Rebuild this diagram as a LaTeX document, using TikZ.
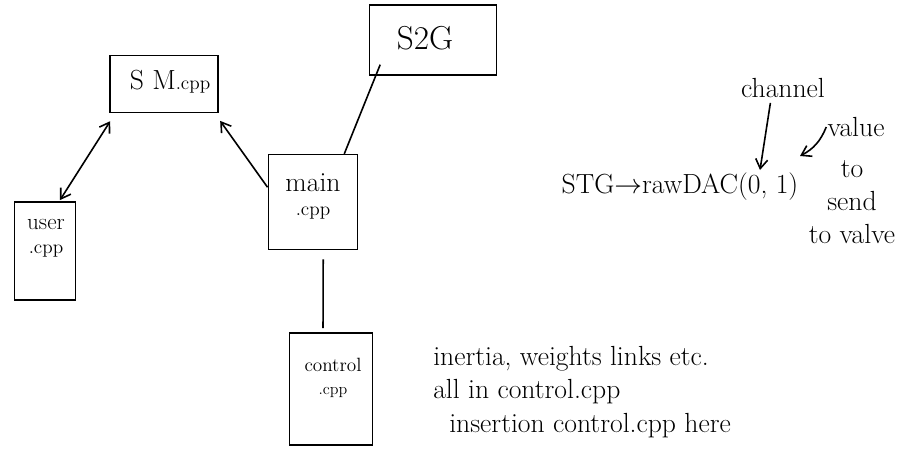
\documentclass[tikz,border=0pt]{standalone}
\usepackage{tikz}
\usetikzlibrary{arrows.meta, positioning}

\tikzset{
  filebox/.style={draw, line width=1.2pt, inner sep=0pt},
  filetext/.style={inner sep=0.75pt, align=center},
  note/.style={inner sep=0.75pt, align=left},
  link/.style={line width=1.2pt},
  barb/.style={-{Straight Barb[length=7pt, width=9pt]}}
}

\begin{document}
\begin{tikzpicture}[x=0.75pt,y=0.75pt,yscale=-1,xscale=1]
		\path[use as bounding box] (0,0) rectangle (899,465);

		%Shape: Boxes
		\node[filebox, minimum width=81pt, minimum height=42.75pt] (sm) at (164,84) {};
		\node[filebox, minimum width=95pt, minimum height=52.5pt] (s2g) at (433,40) {};
		\node[filebox, minimum width=67pt, minimum height=71pt] (main) at (313,202) {};
		\node[filebox, minimum width=46pt, minimum height=73.5pt] (user) at (45,251) {};
		\node[filebox, minimum width=62pt, minimum height=84pt] (control) at (331,389) {};

		% Text Node
		\node[filetext] (sm-txt) at (170,82) {\huge S M{\Large.cpp}};
		\node[filetext] (s2g-txt) at (425,38) {\Huge S2G};
		\node[filetext, font=\Large] (main-txt) at (313,196) {{\huge main}\\ .cpp};
		\node[filetext, font=\Large] (user-txt) at (46,238) {{\LARGE user}\\ .cpp};
		\node[filetext, font=\large] (control-txt) at (333,378) {{\Large control}\\[3pt] .cpp};

		%Straight Lines
		\draw[link, {Straight Barb[length=7pt, width=9pt]}-{Straight Barb[length=7pt, width=9pt]}, shorten >=7pt, shorten <=1pt] (user.74) -- (sm.211);
		\draw[link, barb, shorten >=7pt] (main.162) -- (sm.330);
		\draw[link, shorten >=-9pt] (main.57) -- (s2g.212);
		\draw[link, shorten >=3pt, shorten <=7pt] (main.-78) -- (control.98);

		% Text Node
		\node[note] (call) at (680,187) {\huge STG$\rightarrow$rawDAC(0, 1)};
		\node[note] (channel) at (783,88) {\huge channel};
		\node[note] (value) at (856,127) {\huge value};
		\node[filetext, font=\huge] (send) at (852,202) {to\\ send\\ to valve};
		\coordinate (zero) at (760,170);
		\coordinate (one) at (800,156);

		%Curve Lines
		\draw[link, barb, shorten <=3pt] (channel.south) ++(-12,0) -- (zero);
		\draw[link, barb] (value.west) to[bend right=20] (one);

		% Text Node
		\node[note, font=\huge] (todo) at (432,392) [anchor=west] {inertia, weights links etc.\\ all in control.cpp\\ \hspace{12pt}insertion control.cpp here};

\end{tikzpicture}
\end{document}
